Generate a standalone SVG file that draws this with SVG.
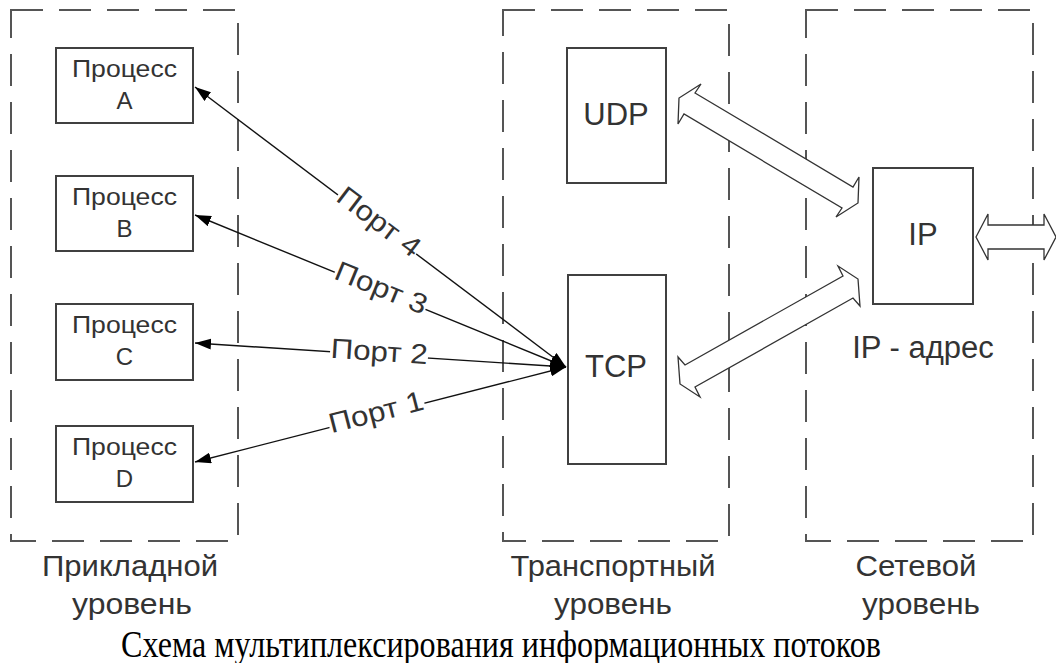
<svg xmlns="http://www.w3.org/2000/svg" width="1056" height="663" viewBox="0 0 1056 663">
<defs>
<style>
.dash{fill:none;stroke:#555;stroke-width:2;stroke-dasharray:32 16}
.box{fill:#fff;stroke:#404040;stroke-width:2}
.t{font-family:"Liberation Sans",Arial,sans-serif;fill:#333;text-anchor:middle}
.cap{font-family:"Liberation Serif","Times New Roman",serif;fill:#000;text-anchor:middle}
.conn{stroke:#111;stroke-width:1.4;fill:none;marker-start:url(#ah);marker-end:url(#ah)}
.blk{fill:#fff;stroke:#333;stroke-width:1.3;stroke-linejoin:miter}
.lbl{fill:#fff}
</style>
<marker id="ah" viewBox="0 0 16 11" refX="16" refY="5.5" markerWidth="16" markerHeight="11" markerUnits="userSpaceOnUse" orient="auto-start-reverse">
<path d="M0,0 L16,5.5 L0,11 z" fill="#000"/>
</marker>
</defs>
<rect width="1056" height="663" fill="#fff"/>

<g id="layer-app">
<rect class="dash" x="11" y="10" width="227" height="531"/>
<text class="t" x="130" y="576" font-size="29" textLength="176" lengthAdjust="spacingAndGlyphs">Прикладной</text>
<text class="t" x="132" y="614" font-size="29" textLength="120" lengthAdjust="spacingAndGlyphs">уровень</text>
</g>
<g id="layer-transport">
<rect class="dash" x="503" y="10" width="226" height="531"/>
<text class="t" x="613" y="576" font-size="29" textLength="205" lengthAdjust="spacingAndGlyphs">Транспортный</text>
<text class="t" x="613" y="614" font-size="29" textLength="118" lengthAdjust="spacingAndGlyphs">уровень</text>
</g>
<g id="layer-net">
<rect class="dash" x="806" y="10" width="227" height="531"/>
<text class="t" x="916" y="576" font-size="29" textLength="121" lengthAdjust="spacingAndGlyphs">Сетевой</text>
<text class="t" x="921" y="614" font-size="29" textLength="118" lengthAdjust="spacingAndGlyphs">уровень</text>
</g>

<g id="proc-a">
<rect class="box" x="56" y="48" width="137" height="75"/>
<text class="t" x="124.5" y="77" font-size="24" textLength="105" lengthAdjust="spacingAndGlyphs">Процесс</text>
<text class="t" x="124.5" y="109" font-size="24">A</text>
</g>
<g id="proc-b">
<rect class="box" x="56" y="176" width="137" height="75"/>
<text class="t" x="124.5" y="205" font-size="24" textLength="105" lengthAdjust="spacingAndGlyphs">Процесс</text>
<text class="t" x="124.5" y="237" font-size="24">B</text>
</g>
<g id="proc-c">
<rect class="box" x="56" y="304" width="137" height="76"/>
<text class="t" x="124.5" y="333" font-size="24" textLength="105" lengthAdjust="spacingAndGlyphs">Процесс</text>
<text class="t" x="124.5" y="365" font-size="24">C</text>
</g>
<g id="proc-d">
<rect class="box" x="56" y="426" width="137" height="76"/>
<text class="t" x="124.5" y="455" font-size="24" textLength="105" lengthAdjust="spacingAndGlyphs">Процесс</text>
<text class="t" x="124.5" y="487" font-size="24">D</text>
</g>

<g id="udp">
<rect class="box" x="567" y="48" width="99" height="135"/>
<text class="t" x="616" y="125" font-size="31">UDP</text>
</g>
<g id="tcp">
<rect class="box" x="568" y="275" width="98" height="189"/>
<text class="t" x="616" y="377" font-size="31">TCP</text>
</g>
<g id="ip">
<rect class="box" x="873" y="168" width="100" height="136"/>
<text class="t" x="923" y="245" font-size="31">IP</text>
<text class="t" x="923" y="358" font-size="31">IP - адрес</text>
</g>

<g id="connectors">
<line class="conn" x1="566" y1="367" x2="195" y2="87"/>
<line class="conn" x1="566" y1="367" x2="195" y2="215"/>
<line class="conn" x1="566" y1="367" x2="195" y2="343"/>
<line class="conn" x1="566" y1="367" x2="195" y2="462"/>
<g transform="translate(377,224.5) rotate(37.1)">
<rect class="lbl" x="-49" y="-14" width="98" height="26"/>
<text class="t" x="0" y="6" font-size="28" textLength="97" lengthAdjust="spacingAndGlyphs">Порт 4</text>
</g>
<g transform="translate(380,291) rotate(22.3)">
<rect class="lbl" x="-49" y="-14" width="98" height="26"/>
<text class="t" x="0" y="6" font-size="28" textLength="97" lengthAdjust="spacingAndGlyphs">Порт 3</text>
</g>
<g transform="translate(379,355) rotate(3.7)">
<rect class="lbl" x="-49" y="-14" width="98" height="26"/>
<text class="t" x="0" y="6" font-size="28" textLength="97" lengthAdjust="spacingAndGlyphs">Порт 2</text>
</g>
<g transform="translate(377,415.5) rotate(-14.4)">
<rect class="lbl" x="-49" y="-14" width="98" height="26"/>
<text class="t" x="0" y="6" font-size="28" textLength="97" lengthAdjust="spacingAndGlyphs">Порт 1</text>
</g>
<polygon class="blk" points="695,93 853,187 859,177 858,203 836,217 842,208 684,114 678,124 679,98 701,84"/>
<polygon class="blk" points="685,365 843,276 838,266 858,279 860,306 853,298 695,387 700,397 680,384 678,357"/>
<polygon class="blk" points="976,237 988,214 988,225 1044,225 1044,214 1056,237 1044,260 1044,249 988,249 988,260"/>
</g>

<text id="caption" class="cap" x="501" y="657" font-size="37" textLength="760" lengthAdjust="spacingAndGlyphs">Схема мультиплексирования информационных потоков</text>
</svg>
